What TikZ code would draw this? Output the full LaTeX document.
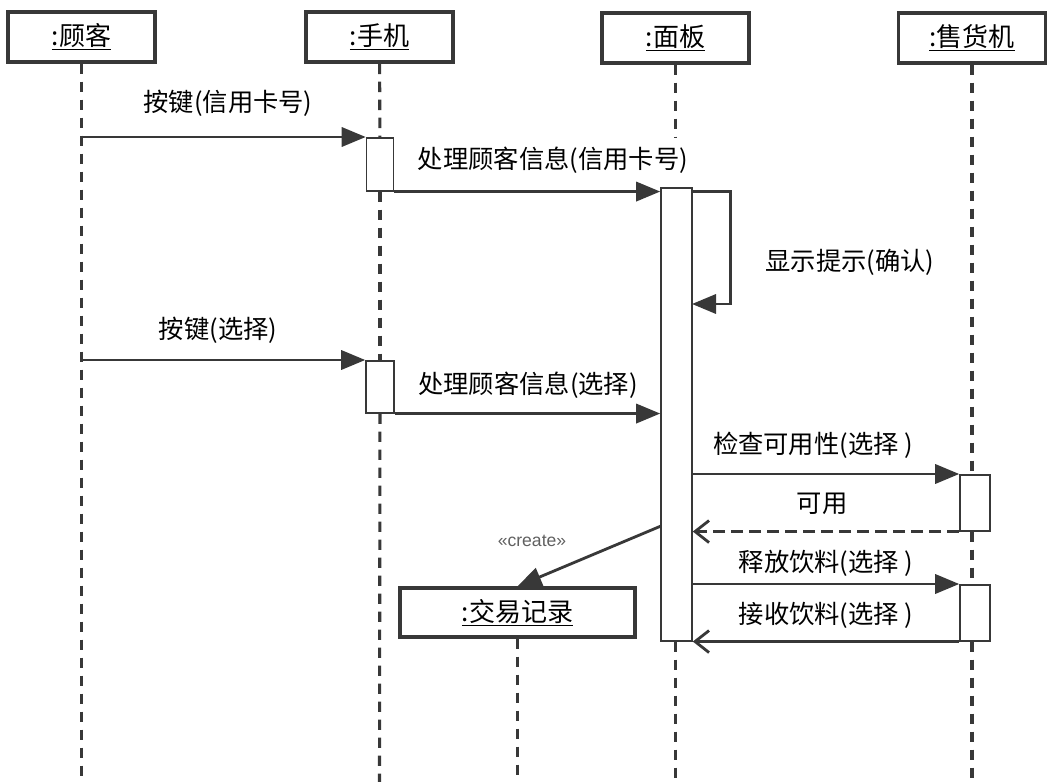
\documentclass[tikz,border=0pt]{standalone}
\usepackage{fontspec}
\newfontfamily\cjk{Noto Sans CJK SC}
\newfontfamily\lsans{Liberation Sans}
\usetikzlibrary{arrows.meta}
\definecolor{ink}{HTML}{383838}

\begin{document}
\begin{tikzpicture}[x=0.25mm,y=-0.25mm,
        obj/.style={draw=ink,line width=2.4pt,minimum width=36.75mm,minimum height=12.5mm,inner sep=0pt,font=\cjk\fontsize{18.5}{22}\selectfont},
        act/.style={draw=ink,fill=white,line width=1.1pt,inner sep=0pt,anchor=north},
        life/.style={draw=ink,line width=2.2pt,dash pattern=on 2.6mm off 1.9mm},
        msg/.style={draw=ink,line width=2pt,-{Triangle[length=6mm,width=4.8mm]}},
        back/.style={draw=ink,line width=2pt,-{Straight Barb[length=3.5mm,width=5.5mm]}},
        lbl/.style={inner sep=0pt,font=\cjk\fontsize{18}{21}\selectfont}]
        \useasboundingbox (0,0) rectangle (1049,782);
        \coordinate (bot) at (0,782);
        \coordinate (gap) at (675.5,137);

        \node[obj] (guke) at (81.5,37) {\underline{:顾客}};
        \node[obj] (shouji) at (379.5,37) {\underline{:手机}};
        \node[obj] (mianban) at (675.5,38) {\underline{:面板}};
        \node[obj] (shouhuoji) at (972,38) {\underline{:售货机}};
        \node[obj,minimum width=58.75mm,minimum height=12.25mm] (jiaoyi) at (517.5,612.5) {\underline{:交易记录}};

        \node[act,minimum width=6.75mm,minimum height=13.25mm] (a1) at (380,137) {};
        \node[act,minimum width=7mm,minimum height=13mm] (a2) at (380,360) {};
        \node[act,minimum width=7.75mm,minimum height=113.25mm] (a3) at (676.5,187) {};
        \node[act,minimum width=7.5mm,minimum height=14mm] (a4) at (975,474) {};
        \node[act,minimum width=7.5mm,minimum height=14mm] (a5) at (975,584) {};
        \coordinate (loop) at (692,304);
        \coordinate (cr) at (661,526);

        \draw[life] (guke) -- (guke |- bot);
        \draw[life] (shouji) -- (a1);
        \draw[life] (a1) -- (a2);
        \draw[life] (a2) -- (shouji |- bot);
        \draw[life] (mianban) -- (gap);
        \draw[life] (a3.south -| mianban) -- (mianban |- bot);
        \draw[life] (shouhuoji) -- (shouhuoji |- a4.north);
        \draw[life] (shouhuoji |- a4.south) -- (shouhuoji |- a5.north);
        \draw[life] (shouhuoji |- a5.south) -- (shouhuoji |- bot);
        \draw[life] (jiaoyi) -- (jiaoyi |- bot);

        \draw[msg] (guke |- a1.north) -- (a1.north west);
        \draw[msg] (a1.south east) -- (a1.south east -| a3.west);
        \draw[msg] (a1.south -| a3.east) -- ++(38,0) |- (loop);
        \draw[msg] (guke |- a2.north) -- (a2.north west);
        \draw[msg] (a2.south east) -- (a2.south east -| a3.west);
        \draw[msg] (a3.east |- a4.north) -- (a4.north west);
        \draw[back,dash pattern=on 3mm off 1.5mm] (a4.south west) -- (a4.south west -| a3.east);
        \draw[msg] (cr) -- (jiaoyi.north);
        \draw[msg] (a3.east |- a5.north) -- (a5.north west);
        \draw[back] (a5.south west) -- (a5.south west -| a3.east);

        \node[lbl] (l1) at (228,103) {按键(信用卡号)};
        \node[lbl] (l2) at (553,160) {处理顾客信息(信用卡号)};
        \node[lbl] (l3) at (850,262) {显示提示(确认)};
        \node[lbl] (l4) at (218,330) {按键(选择)};
        \node[lbl] (l5) at (528,385) {处理顾客信息(选择)};
        \node[lbl] (l6) at (813,445) {检查可用性(选择 )};
        \node[lbl] (l7) at (822,504) {可用};
        \node[inner sep=0pt,text=ink!80,font=\lsans\fontsize{12.5}{14}\selectfont] (l8) at (532,541) {«create»};
        \node[lbl] (l9) at (826,563) {释放饮料(选择 )};
        \node[lbl] (l10) at (826,615) {接收饮料(选择 )};
    \end{tikzpicture}
\end{document}
